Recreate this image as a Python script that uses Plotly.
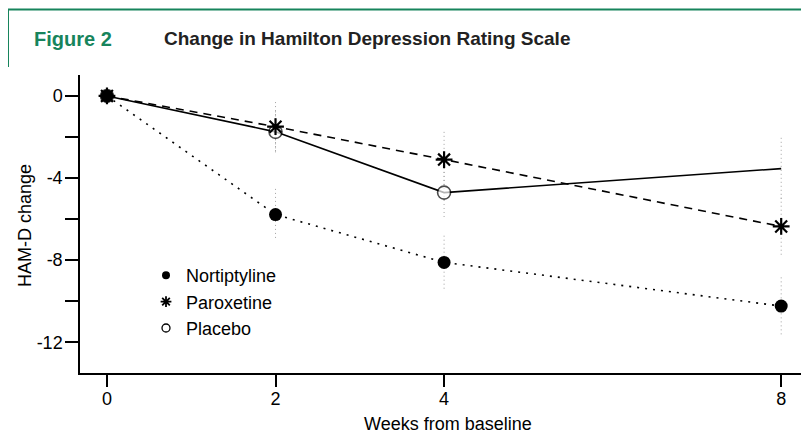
import plotly.graph_objects as go

weeks = [0, 2, 4, 8]
nortriptyline = [0, -5.78, -8.11, -10.24]
nortriptyline_err = [0, 1.25, 1.3, 1.4]
paroxetine = [0, -1.5, -3.1, -6.36]
paroxetine_err = [0, 1.2, 1.35, 1.4]
placebo = [0, -1.75, -4.71, -3.54]
placebo_err = [0, 1.0, 1.2, 1.5]
placebo_marker_size = [13, 13, 13, 0]

y_tickvals = [0, -2, -4, -6, -8, -10, -12]
y_ticktext = ["0", "", "-4", "", "-8", "", "-12"]
x_tickvals = [0, 2, 4, 8]

FONT = "Liberation Sans, Arial, sans-serif"
GREEN = "#17845c"

# page has an 8px body margin; work in reference pixels and shift
OFF = 8
W, H = 809 - OFF, 435 - OFF
L, T = 80 - OFF, 75 - OFF
R, B = 0, H - (373 - OFF)
PW, PH = W - L - R, H - T - B


def px_x(px):
    return (px - OFF - L) / PW


def px_y(py):
    return (H - B - (py - OFF)) / PH


def err_segments(xs, ys, es):
    ex, ey = [], []
    for x, y, e in zip(xs, ys, es):
        if e > 0:
            ex += [x, x, None]
            ey += [y + e, y - e, None]
    return ex, ey


fig = go.Figure()

for ys, es in [(placebo, placebo_err), (paroxetine, paroxetine_err), (nortriptyline, nortriptyline_err)]:
    ex, ey = err_segments(weeks, ys, es)
    fig.add_trace(go.Scatter(x=ex, y=ey, mode="lines", showlegend=False, hoverinfo="skip",
                             line=dict(color="#a0a0a0", width=1, dash="1px,3px")))

fig.add_trace(go.Scatter(x=weeks, y=placebo, mode="lines+markers", showlegend=False,
                         line=dict(color="black", width=1.6),
                         marker=dict(symbol="circle", size=placebo_marker_size, color="white",
                                     line=dict(color="black", width=1.6))))
fig.add_trace(go.Scatter(x=weeks, y=paroxetine, mode="lines+markers", showlegend=False,
                         line=dict(color="black", width=1.6, dash="8px,6px"),
                         marker=dict(symbol="asterisk-open", size=14, color="black",
                                     line=dict(color="black", width=2.2))))
fig.add_trace(go.Scatter(x=weeks, y=nortriptyline, mode="lines+markers", showlegend=False,
                         line=dict(color="black", width=1.6, dash="2px,6px"),
                         marker=dict(symbol="circle", size=13, color="black")))

# legend entries (markers only)
fig.add_trace(go.Scatter(x=[None], y=[None], mode="markers", name="Nortiptyline",
                         marker=dict(symbol="circle", size=8, color="black")))
fig.add_trace(go.Scatter(x=[None], y=[None], mode="markers", name="Paroxetine",
                         marker=dict(symbol="asterisk-open", size=9, color="black",
                                     line=dict(color="black", width=1.8))))
fig.add_trace(go.Scatter(x=[None], y=[None], mode="markers", name="Placebo",
                         marker=dict(symbol="circle-open", size=8, color="black", line=dict(width=1.3))))

fig.update_layout(
    width=W, height=H,
    margin=dict(l=L, r=R, t=T, b=B, autoexpand=False),
    paper_bgcolor="white", plot_bgcolor="white",
    font=dict(family=FONT, size=18, color="black"),
    showlegend=True,
    legend=dict(x=px_x(146), y=px_y(257), xanchor="left", yanchor="top",
                bgcolor="rgba(0,0,0,0)", font=dict(size=18), itemwidth=30,
                tracegroupgap=0),
    xaxis=dict(range=[-0.32, 8.33], tickvals=x_tickvals, ticks="outside", ticklen=12,
               tickwidth=1.5, tickcolor="black", showline=True, linecolor="black", linewidth=1.5,
               showgrid=False, zeroline=False, tickfont=dict(size=18), ticklabelstandoff=-3),
    yaxis=dict(range=[-13.5, 1.02], tickvals=y_tickvals, ticktext=y_ticktext, ticks="outside",
               ticklen=13, tickwidth=1.5, tickcolor="black", showline=True, linecolor="black",
               linewidth=1.5, showgrid=False, zeroline=False, tickfont=dict(size=18),
               ticklabelstandoff=-1),
    shapes=[
        dict(type="line", xref="paper", yref="paper", x0=px_x(8), x1=1.0, y0=px_y(9.5), y1=px_y(9.5),
             line=dict(color=GREEN, width=2)),
        dict(type="line", xref="paper", yref="paper", x0=px_x(8), x1=px_x(8), y0=px_y(9.5), y1=px_y(67),
             line=dict(color=GREEN, width=2)),
    ],
    annotations=[
        dict(text="<b>Figure 2</b>", xref="paper", yref="paper", x=px_x(32), y=px_y(39),
             xanchor="left", yanchor="middle", showarrow=False,
             font=dict(family=FONT, size=20, color=GREEN)),
        dict(text="<b>Change in Hamilton Depression Rating Scale</b>", xref="paper", yref="paper",
             x=px_x(162), y=px_y(39), xanchor="left", yanchor="middle", showarrow=False,
             font=dict(family=FONT, size=19, color="#222222")),
        dict(text="Weeks from baseline", xref="paper", yref="paper", x=px_x(448), y=px_y(424),
             xanchor="center", yanchor="middle", showarrow=False, font=dict(family=FONT, size=18)),
        dict(text="HAM-D change", xref="paper", yref="paper", x=px_x(25), y=px_y(226),
             xanchor="center", yanchor="middle", textangle=-90, showarrow=False,
             font=dict(family=FONT, size=18)),
    ],
)

fig.write_html("out.html")
